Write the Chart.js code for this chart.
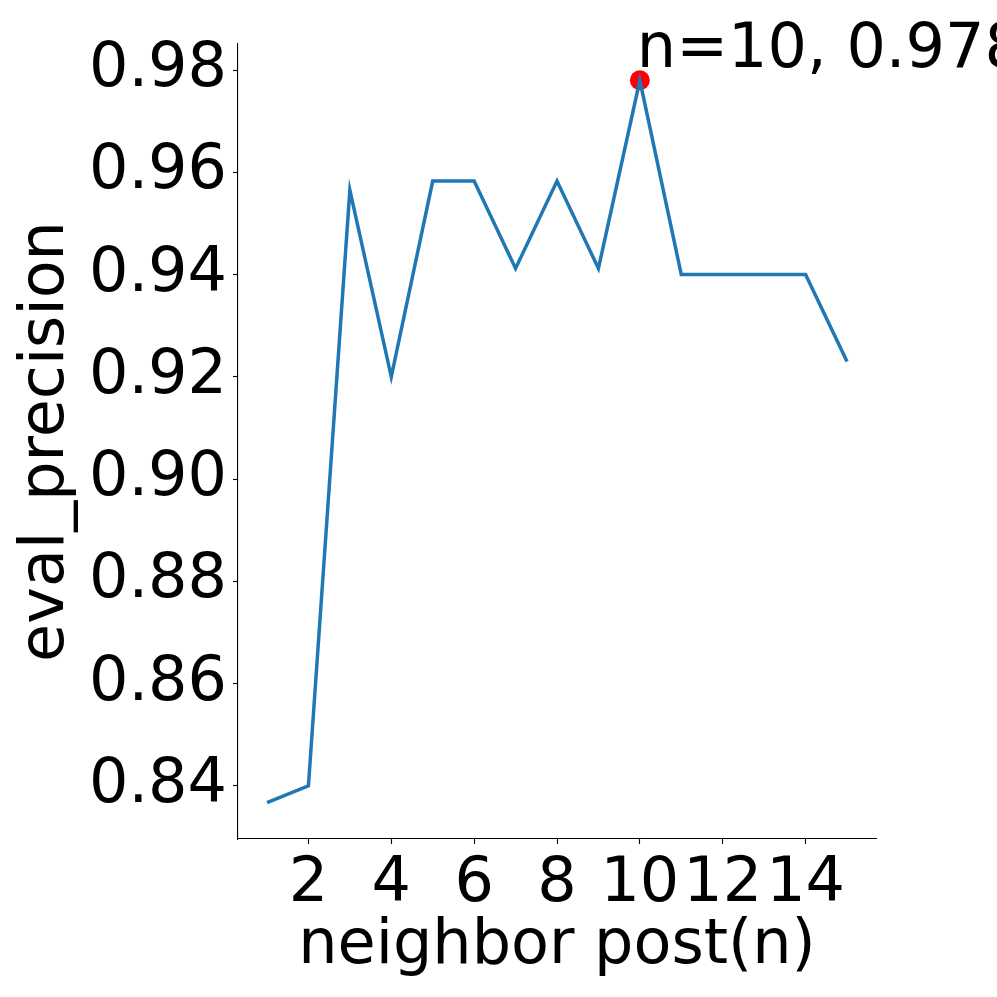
<!DOCTYPE html>
<html>
<head>
<meta charset="utf-8">
<script src="https://cdn.jsdelivr.net/npm/chart.js@4"></script>
<style>
  html, body { margin: 0; padding: 0; background: #fff; }
  #wrap { width: 997px; height: 997px; }
</style>
</head>
<body>
<div id="wrap"><canvas id="myChart" width="997" height="997"></canvas></div>
<script>
// neighbor post count and eval precision
var neighbors = [1, 2, 3, 4, 5, 6, 7, 8, 9, 10, 11, 12, 13, 14, 15];
var precision = [0.8367, 0.84, 0.9565, 0.92, 0.9583, 0.9583, 0.9412, 0.9583, 0.9412, 0.978, 0.94, 0.94, 0.94, 0.94, 0.923];
var bestN = [10];
var bestPrecision = [0.978];
var xTicks = [2, 4, 6, 8, 10, 12, 14];
var yTicks = [0.84, 0.86, 0.88, 0.90, 0.92, 0.94, 0.96, 0.98];

var FONT = "'DejaVu Sans', sans-serif";

var linePoints = neighbors.map(function (n, i) { return {x: n, y: precision[i]}; });
var bestPoints = bestN.map(function (n, i) { return {x: n, y: bestPrecision[i]}; });

// label next to the best point
var bestLabel = {
    id: 'bestLabel',
    afterDatasetsDraw: function (chart) {
        var ctx = chart.ctx;
        var px = chart.scales.x.getPixelForValue(bestN[0]);
        var py = chart.scales.y.getPixelForValue(bestPrecision[0]);
        ctx.save();
        ctx.font = '62px ' + FONT;
        ctx.fillStyle = '#000';
        ctx.textAlign = 'left';
        ctx.textBaseline = 'alphabetic';
        ctx.fillText('n=' + bestN[0] + ', ' + bestPrecision[0], px - 3, py - 13);
        ctx.restore();
    }
};

var ctx = document.getElementById('myChart').getContext('2d');
var myChart = new Chart(ctx, {
    type: 'scatter',
    data: {
        datasets: [{
            data: linePoints,
            showLine: true,
            borderColor: '#1f77b4',
            borderWidth: 3.5,
            pointRadius: 0,
            tension: 0
        }, {
            data: bestPoints,
            pointRadius: 10,
            pointBackgroundColor: '#ff0000',
            pointBorderWidth: 0,
            showLine: false
        }]
    },
    options: {
        responsive: false,
        animation: false,
        events: [],
        layout: {padding: {left: 0, right: 121, top: 44, bottom: 0}},
        plugins: {legend: {display: false}, tooltip: {enabled: false}},
        scales: {
            x: {
                type: 'linear',
                min: 0.3,
                max: 15.7,
                afterBuildTicks: function (scale) {
                    scale.ticks = xTicks.map(function (v) { return {value: v}; });
                },
                afterFit: function (scale) { scale.height = 158; },
                grid: {display: true, drawOnChartArea: false, drawTicks: true, tickLength: 5, tickColor: '#000', tickWidth: 1.1},
                border: {display: true, color: '#000', width: 1.1},
                ticks: {
                    autoSkip: false, maxRotation: 0, color: '#000', padding: 4,
                    font: {family: FONT, size: 62},
                    callback: function (v) { return v; }
                },
                title: {display: true, text: 'neighbor post(n)', color: '#000', font: {family: FONT, size: 62}, padding: {top: 0, bottom: 13}}
            },
            y: {
                type: 'linear',
                min: 0.8296,
                max: 0.9851,
                afterBuildTicks: function (scale) {
                    scale.ticks = yTicks.map(function (v) { return {value: v}; });
                },
                afterFit: function (scale) { scale.width = 238; },
                grid: {display: true, drawOnChartArea: false, drawTicks: true, tickLength: 5, tickColor: '#000', tickWidth: 1.1},
                border: {display: true, color: '#000', width: 1.1},
                ticks: {
                    autoSkip: false, color: '#000', padding: 6,
                    font: {family: FONT, size: 62},
                    callback: function (v) { return v.toFixed(2); }
                },
                title: {display: true, text: 'eval_precision', color: '#000', font: {family: FONT, size: 62}, padding: {top: 10, bottom: 0}}
            }
        }
    },
    plugins: [bestLabel]
});
</script>
</body>
</html>
